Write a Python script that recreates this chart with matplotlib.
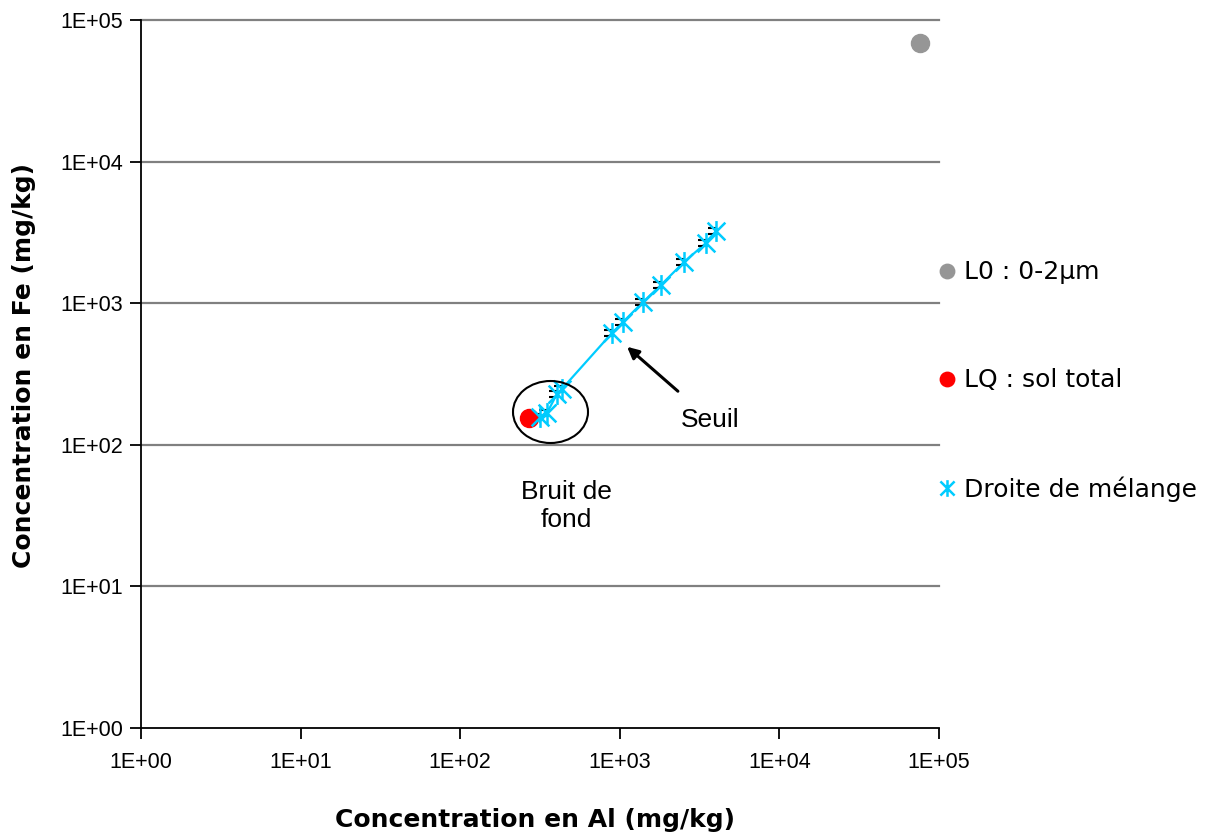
import matplotlib
matplotlib.use("Agg")
import matplotlib.pyplot as plt
from matplotlib.patches import Ellipse
from matplotlib.path import Path
import numpy as np

# Data
l0_al = [76000]
l0_fe = [68500]
lq_al = [270]
lq_fe = [155]
mix_al = [316, 350, 404, 434, 894, 1047, 1397, 1812, 2525, 3467, 4003]
mix_fe = [157, 168, 229, 248, 617, 737, 1019, 1346, 1954, 2661, 3236]
x_ticks = [1, 10, 100, 1000, 10000, 100000]
x_ticklabels = ["1E+00", "1E+01", "1E+02", "1E+03", "1E+04", "1E+05"]
y_ticks = [1, 10, 100, 1000, 10000, 100000]
y_ticklabels = ["1E+00", "1E+01", "1E+02", "1E+03", "1E+04", "1E+05"]

fig = plt.figure(figsize=(12.13, 8.34), dpi=100)
W, H = 1213, 834
ax = fig.add_axes([141 / W, 1 - 728 / H, (939 - 141) / W, (728 - 20) / H])
ax.set_xscale("log")
ax.set_yscale("log")
ax.set_xlim(1, 1e5)
ax.set_ylim(1, 1e5)

for v in y_ticks[1:]:
    ax.axhline(v, color="#808080", lw=1.6, zorder=0, clip_on=False)

# black dash marker under the stars
dash = Path([(-0.9, 0.3), (0.1, 0.3), (-0.9, -0.3), (0.1, -0.3)],
            [Path.MOVETO, Path.LINETO, Path.MOVETO, Path.LINETO])
star = Path([(0, -1), (0, 1), (-0.85, -0.85), (0.85, 0.85), (-0.85, 0.85), (0.85, -0.85)],
            [Path.MOVETO, Path.LINETO, Path.MOVETO, Path.LINETO, Path.MOVETO, Path.LINETO])

ax.plot(mix_al, mix_fe, color="#00CCFF", lw=1.6, zorder=2)
ax.plot(mix_al, mix_fe, ls="none", marker=dash, ms=11, mec="black", mew=1.5, zorder=3)
ax.plot(mix_al, mix_fe, ls="none", marker=star, ms=15, mec="#00CCFF", mew=1.8, zorder=4,
        label="Droite de mélange")
ax.plot(lq_al, lq_fe, ls="none", marker="o", ms=13, mfc="#FF0000", mec="#FF0000", zorder=3,
        label="LQ : sol total")
ax.plot(l0_al, l0_fe, ls="none", marker="o", ms=13, mfc="#969696", mec="#969696", zorder=3,
        label="L0 : 0-2µm")

# ellipse around background noise
ell = Ellipse(((550.5 - 141) / 798, (728 - 412) / 708), 75 / 798, 62 / 708,
              transform=ax.transAxes, fill=False, ec="black", lw=1.5, zorder=5)
ax.add_patch(ell)

ax.annotate("", xy=(1078, 507), xytext=(2383, 232),
            arrowprops=dict(arrowstyle="-|>", color="black", lw=2.2, mutation_scale=17))
ax.text(3670, 150, "Seuil", fontsize=19, family="Liberation Sans", ha="center", va="center")
ax.text(460, 37, "Bruit de\nfond", fontsize=19, family="Liberation Sans", ha="center",
        va="center", linespacing=1.2)

ax.set_xticks(x_ticks)
ax.set_xticklabels(x_ticklabels)
ax.set_yticks(y_ticks)
ax.set_yticklabels(y_ticklabels)
ax.minorticks_off()
for lab in ax.get_xticklabels() + ax.get_yticklabels():
    lab.set_family("Liberation Sans")
    lab.set_fontsize(15.5)
ax.tick_params(axis="both", direction="out", length=8, width=1.3, color="black", pad=5)
ax.tick_params(axis="x", pad=9)
for s in ["top", "right"]:
    ax.spines[s].set_visible(False)
for s in ["left", "bottom"]:
    ax.spines[s].set_linewidth(1.3)

fig.text(535 / W, 1 - 820 / H, "Concentration en Al (mg/kg)", fontsize=18, fontweight="bold",
         family="DejaVu Sans", ha="center", va="center")
fig.text(24 / W, 1 - 366 / H, "Concentration en Fe (mg/kg)", fontsize=18, fontweight="bold",
         family="DejaVu Sans", ha="center", va="center", rotation=90)

handles, labels = ax.get_legend_handles_labels()
order = [2, 1, 0]
leg = fig.legend([handles[i] for i in order], [labels[i] for i in order],
                 loc="center left", bbox_to_anchor=(917 / W, 1 - 381 / H),
                 frameon=False, labelspacing=3.36, handlelength=0.6,
                 handletextpad=0.4, markerscale=0.8,
                 prop={"family": "DejaVu Sans", "size": 18})
for h in leg.legend_handles:
    h.set_linestyle("none")

fig.savefig("out.png", dpi=100)
